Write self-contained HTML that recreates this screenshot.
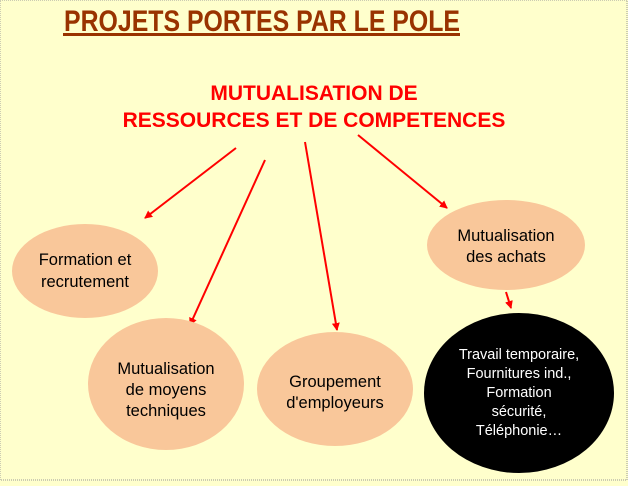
<!DOCTYPE html>
<html><head><style>
body{margin:0;width:628px;height:481px;overflow:hidden;background:#ffffcc;font-family:"Liberation Sans",sans-serif}
</style></head><body>
<svg width="628" height="481" viewBox="0 0 628 481" xmlns="http://www.w3.org/2000/svg">
<rect x="0" y="0" width="627" height="480" fill="#ffffcc" stroke="#999" stroke-dasharray="1,1"/>
<text x="64" y="31" font-family="Liberation Sans" font-weight="bold" font-size="30" fill="#993300" textLength="396" lengthAdjust="spacingAndGlyphs">PROJETS PORTES PAR LE POLE</text>
<rect x="63" y="33" width="397" height="3" fill="#993300"/>
<g font-family="Liberation Sans" font-weight="bold" font-size="21" fill="#ff0000" text-anchor="middle">
<text x="314" y="100">MUTUALISATION DE</text>
<text x="314" y="127">RESSOURCES ET DE COMPETENCES</text>
</g>
<defs><marker id="a" markerWidth="8" markerHeight="8" refX="7" refY="4" orient="auto" markerUnits="userSpaceOnUse" viewBox="0 0 8 8"><path d="M0,0 L8,4 L0,8z" fill="#ff0000"/></marker></defs>
<g stroke="#ff0000" stroke-width="2" marker-end="url(#a)">
<line x1="236" y1="148" x2="145" y2="218"/>
<line x1="265" y1="160" x2="190" y2="325"/>
<line x1="305" y1="142" x2="337" y2="330"/>
<line x1="358" y1="135" x2="447" y2="208"/>
<line x1="506" y1="292" x2="511" y2="308"/>
</g>
<g fill="#f9c79a">
<ellipse cx="85" cy="271" rx="73" ry="47"/>
<ellipse cx="166" cy="384" rx="78" ry="66"/>
<ellipse cx="335" cy="389" rx="78" ry="57"/>
<ellipse cx="506" cy="245" rx="79" ry="45"/>
</g>
<ellipse cx="519" cy="393" rx="95" ry="80" fill="#000"/>
<g font-family="Liberation Sans" font-size="16.5" fill="#000" text-anchor="middle">
<text x="85" y="265">Formation et</text><text x="85" y="287">recrutement</text>
<text x="166" y="374">Mutualisation</text><text x="166" y="395">de moyens</text><text x="166" y="416">techniques</text>
<text x="335" y="387">Groupement</text><text x="335" y="408">d'employeurs</text>
<text x="506" y="241">Mutualisation</text><text x="506" y="262">des achats</text>
</g>
<g font-family="Liberation Sans" font-size="14.5" fill="#fff" text-anchor="middle">
<text x="519" y="359">Travail temporaire,</text>
<text x="519" y="378">Fournitures ind.,</text>
<text x="519" y="397">Formation</text>
<text x="519" y="416">sécurité,</text>
<text x="519" y="435">Téléphonie…</text>
</g>
</svg>
</body></html>
